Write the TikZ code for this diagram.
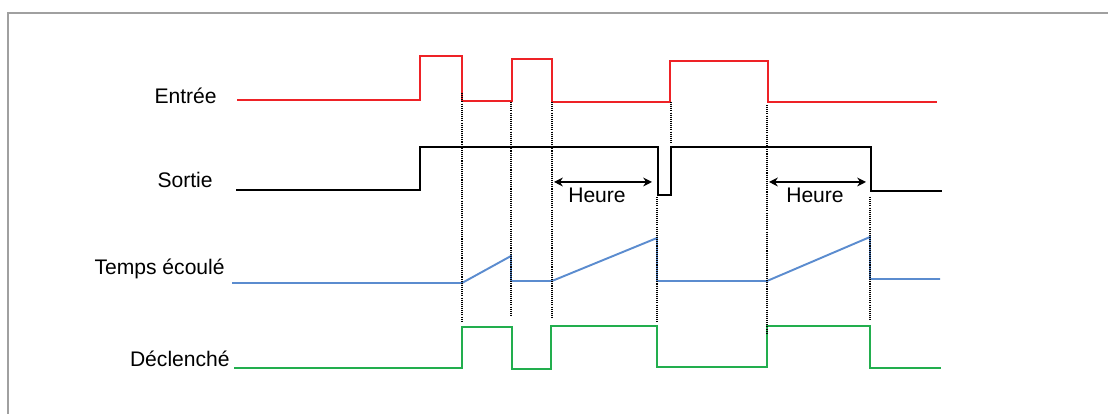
\documentclass[tikz,border=0pt]{standalone}
\usepackage{fontspec}
\setmainfont{Liberation Sans}
\usepackage{tikz}
\usetikzlibrary{arrows.meta}
\definecolor{sigred}{HTML}{EE2226}
\definecolor{sigblue}{HTML}{5B8CCF}
\definecolor{siggreen}{HTML}{22AE4E}
\definecolor{framegray}{HTML}{A0A0A0}

\begin{document}
\begin{tikzpicture}[
      x=0.2mm, y=-0.2mm,
      signame/.style={font=\fontsize{12}{14}\selectfont, inner sep=0pt},
      signal/.style={line width=1.1pt, line join=miter},
      guide/.style={dash pattern=on 0.6pt off 0.6pt, line width=0.8pt},
      timespan/.style={{Stealth[length=5pt,width=5pt]}-{Stealth[length=5pt,width=5pt]}, line width=1.1pt},
    ]
    \useasboundingbox (0,0) rectangle (1108,414);
    % frame (cut on the right and at the bottom)
    \draw [framegray, line width=1.1pt] (8,414) -- (8,13) -- (1108,13);
    % signal names
    \node [signame, anchor=base east] (entree) at (217,104) {Entrée};
    \node [signame, anchor=base east] (sortie) at (213,188) {Sortie};
    \node [signame, anchor=base east] (temps) at (225,275) {Temps écoulé};
    \node [signame, anchor=base east] (declenche) at (230,367) {Déclenché};
    % Entrée (red)
    \draw [signal, sigred] (237,100) -- (420,100) -- (420,56) -- (462,56) -- (462,101) -- (512,101)
      -- (512,59) -- (552,59) -- (552,102) -- (670,102) -- (670,61) -- (768,61) -- (768,102) -- (937,102);
    % Sortie (black)
    \draw [signal, black] (236,190) -- (420,190) -- (420,147) -- (658,147) -- (658,195) -- (671,195)
      -- (671,147) -- (871,147) -- (871,191) -- (942,191);
    % Temps écoulé (blue)
    \draw [signal, sigblue] (232,283) -- (462,283) -- (511,256) -- (511,281) -- (552,281) -- (657,238)
      -- (657,281) -- (767,281) -- (870,237) -- (870,279) -- (940,279);
    % Déclenché (green)
    \draw [signal, siggreen] (234,368) -- (462,368) -- (462,327) -- (512,327) -- (512,369) -- (551,369)
      -- (551,326) -- (657,326) -- (657,367) -- (767,367) -- (767,326) -- (870,326) -- (870,368) -- (941,368);
    % dotted guides
    \draw [guide] (462,93) -- (462,322);
    \draw [guide] (511,102) -- (511,317);
    \draw [guide] (552,102) -- (552,319);
    \draw [guide] (657,197) -- (657,323);
    \draw [guide] (671,102) -- (671,143);
    \draw [guide] (767,105) -- (767,333);
    \draw [guide] (870,197) -- (870,320);
    % Heure spans
    \coordinate (h1start) at (554,182);
    \coordinate (h1end) at (652,182);
    \coordinate (h2start) at (769,182);
    \coordinate (h2end) at (866,182);
    \draw [timespan] (h1start) -- (h1end);
    \draw [timespan] (h2start) -- (h2end);
    \node [signame, anchor=base] (heure1) at (597,203) {Heure};
    \node [signame, anchor=base] (heure2) at (815,203) {Heure};
  \end{tikzpicture}
\end{document}
